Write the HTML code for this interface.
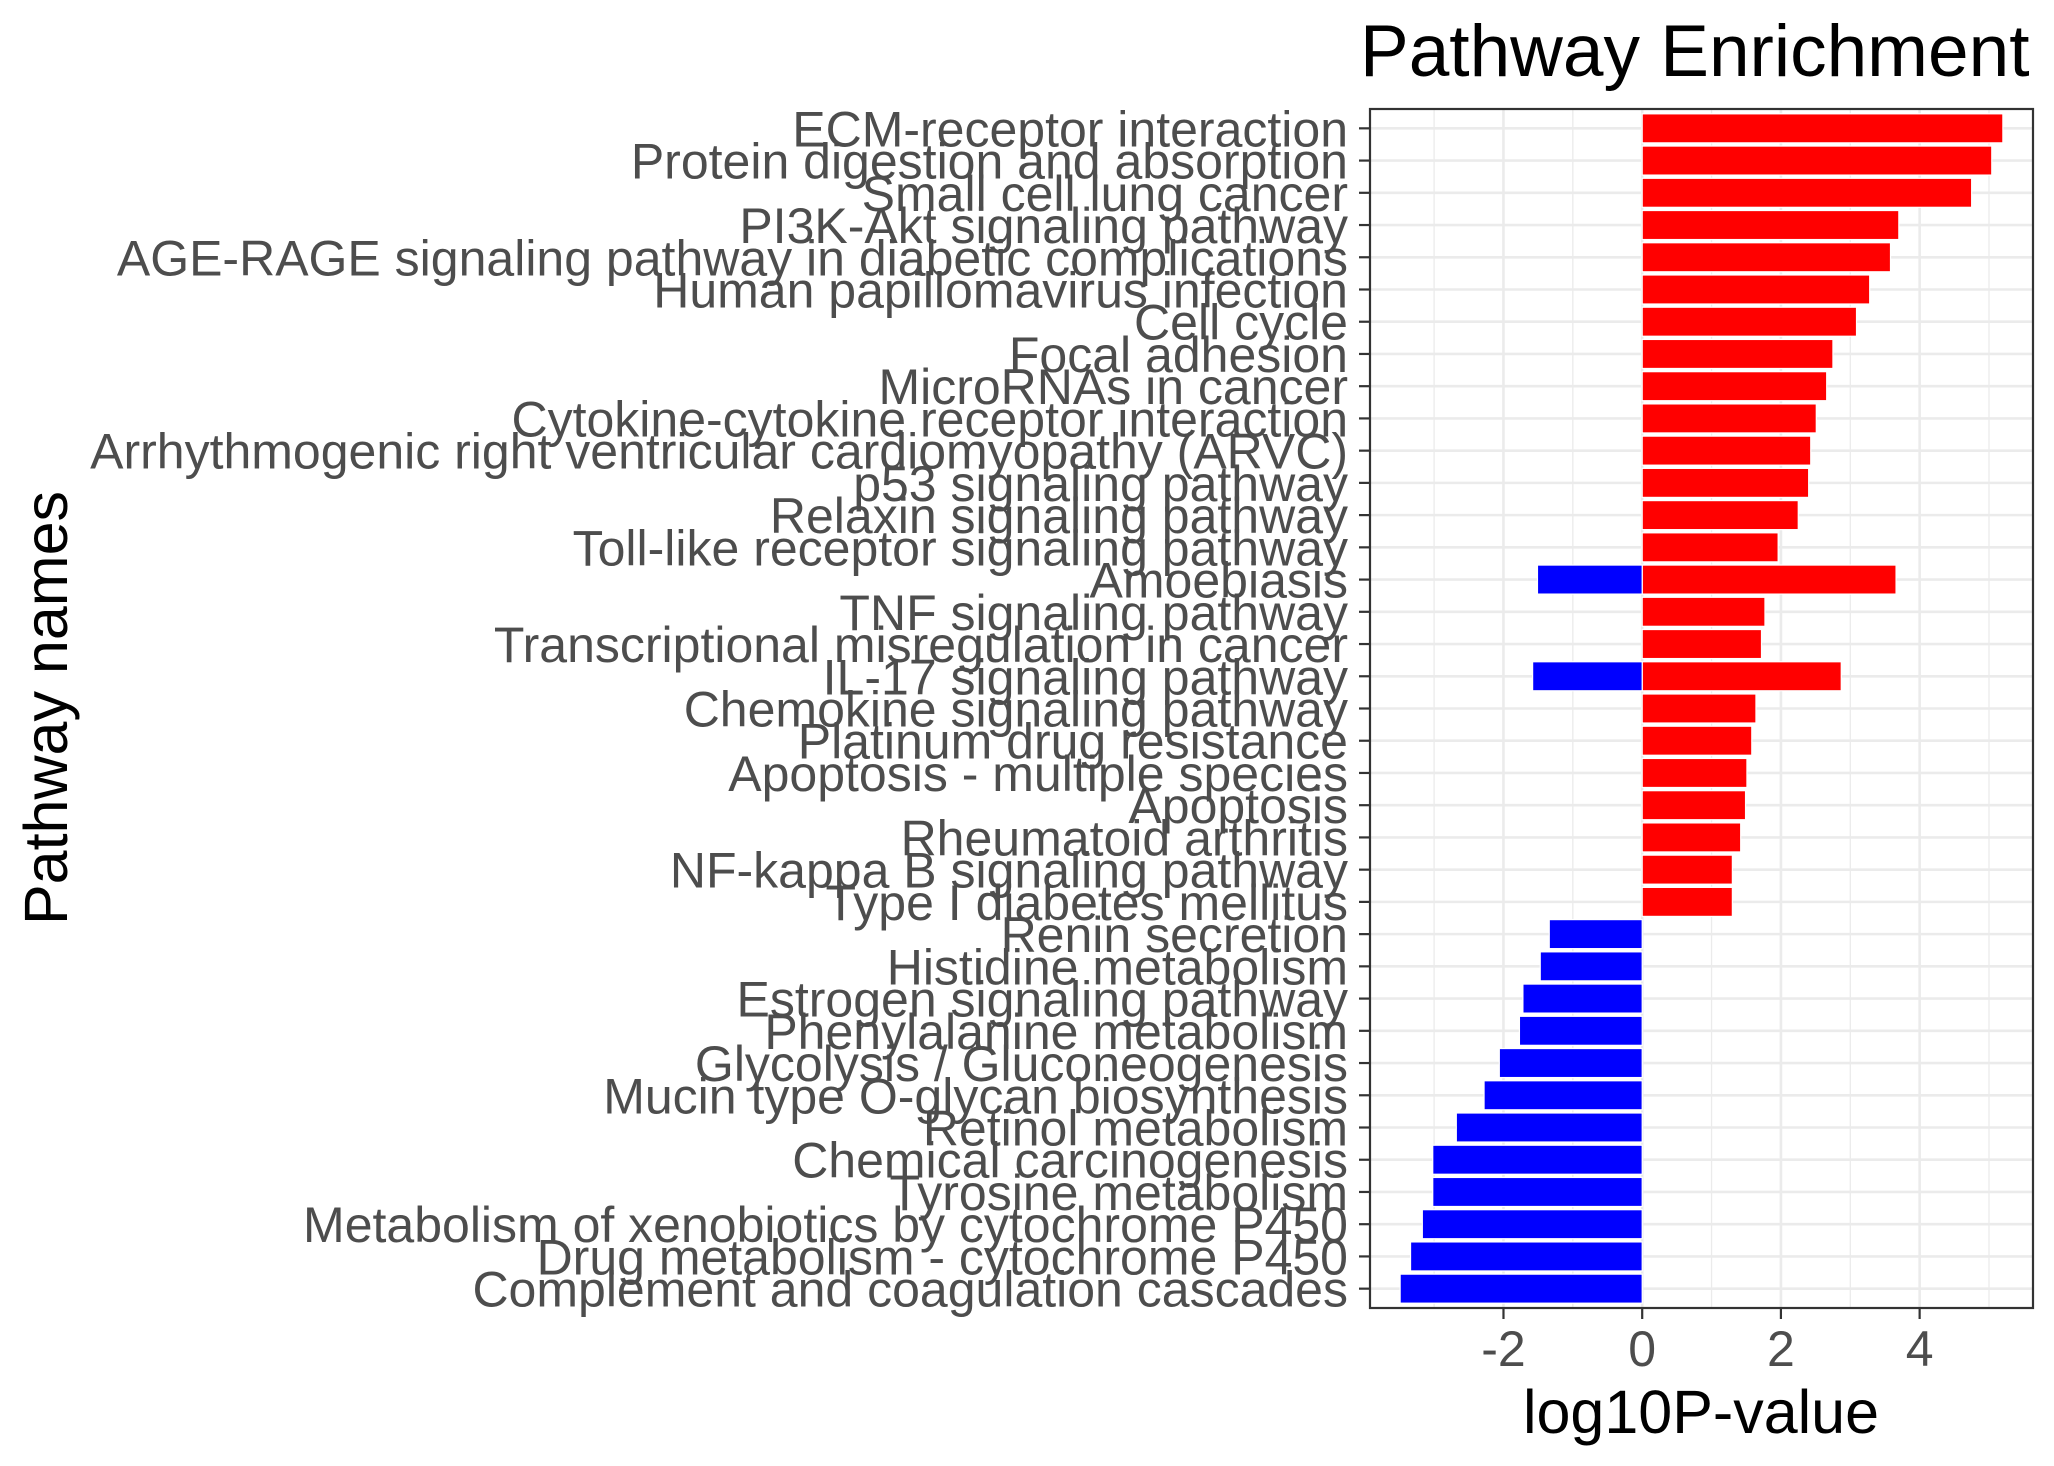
<!DOCTYPE html>
<html><head><meta charset="utf-8"><style>
html,body{margin:0;padding:0;background:#fff;}
svg{display:block;font-family:"Liberation Sans",Arial,sans-serif;}
</style></head><body>
<svg id="chart" width="2054" height="1466" viewBox="0 0 2054 1466">
<rect width="2054" height="1466" fill="#fff"/>
<text x="1360" y="76" font-size="73" fill="#000">Pathway Enrichment</text>
<g id="grid"></g>
<g id="bars"></g>
<rect x="1370" y="109" width="663" height="1199" fill="none" stroke="#333" stroke-width="2.2"/>
<g id="yaxis"></g>
<g id="xaxis"></g>
<text x="1701" y="1433" font-size="61" text-anchor="middle" fill="#000">log10P-value</text>
<text transform="translate(67,708) rotate(-90)" font-size="61" text-anchor="middle" fill="#000">Pathway names</text>
</svg>
<script>
const categories = ["ECM-receptor interaction","Protein digestion and absorption","Small cell lung cancer","PI3K-Akt signaling pathway","AGE-RAGE signaling pathway in diabetic complications","Human papillomavirus infection","Cell cycle","Focal adhesion","MicroRNAs in cancer","Cytokine-cytokine receptor interaction","Arrhythmogenic right ventricular cardiomyopathy (ARVC)","p53 signaling pathway","Relaxin signaling pathway","Toll-like receptor signaling pathway","Amoebiasis","TNF signaling pathway","Transcriptional misregulation in cancer","IL-17 signaling pathway","Chemokine signaling pathway","Platinum drug resistance","Apoptosis - multiple species","Apoptosis","Rheumatoid arthritis","NF-kappa B signaling pathway","Type I diabetes mellitus","Renin secretion","Histidine metabolism","Estrogen signaling pathway","Phenylalanine metabolism","Glycolysis / Gluconeogenesis","Mucin type O-glycan biosynthesis","Retinol metabolism","Chemical carcinogenesis","Tyrosine metabolism","Metabolism of xenobiotics by cytochrome P450","Drug metabolism - cytochrome P450","Complement and coagulation cascades"];
const upValues = [5.2,5.04,4.75,3.7,3.58,3.28,3.09,2.75,2.66,2.51,2.43,2.4,2.25,1.96,3.66,1.77,1.72,2.87,1.64,1.58,1.51,1.49,1.42,1.3,1.3,0,0,0,0,0,0,0,0,0,0,0,0];
const downValues = [0,0,0,0,0,0,0,0,0,0,0,0,0,0,-1.51,0,0,-1.58,0,0,0,0,0,0,0,-1.34,-1.47,-1.72,-1.77,-2.06,-2.28,-2.68,-3.02,-3.02,-3.17,-3.34,-3.49];
const xTicks = [-2,0,2,4];
const xTickLabels = ["-2","0","2","4"];
const xMinor = [-3,-1,1,3,5];

const NS="http://www.w3.org/2000/svg";
const PL=1370, PR=2033, PT=109, PB=1308;
const allVals = upValues.concat(downValues);
const dmin = Math.min(...allVals), dmax = Math.max(...allVals);
const pad = (dmax-dmin)*0.05;
const xmin = dmin-pad, xmax = dmax+pad;
const xs = v => PL + (v-xmin)/(xmax-xmin)*(PR-PL);
const n = categories.length;
const band = (PB-PT)/(n-1+1.2);
const ys = i => PT + (0.6+i)*band;
function mk(tag, attrs, parent){const e=document.createElementNS(NS,tag);for(const k in attrs)e.setAttribute(k,attrs[k]);parent.appendChild(e);return e;}
const grid=document.getElementById('grid'), bars=document.getElementById('bars'), yaxis=document.getElementById('yaxis'), xaxis=document.getElementById('xaxis');
xMinor.forEach(v=>{const l=mk('line',{x1:xs(v),x2:xs(v),y1:PT,y2:PB,stroke:'#ebebeb','stroke-width':1.3},grid);

});
xTicks.forEach(v=>{const l=mk('line',{x1:xs(v),x2:xs(v),y1:PT,y2:PB,stroke:'#ebebeb','stroke-width':2.6},grid);

});
categories.forEach((c,i)=>{const l=mk('line',{x1:PL,x2:PR,y1:ys(i),y2:ys(i),stroke:'#ebebeb','stroke-width':2.6},grid);

});
const bh = band*0.9;
function bar(v,i,col,name){ if(v===0) return;
 const x0=xs(0), x1=xs(v);
 const r=mk('rect',{x:Math.min(x0,x1),y:ys(i)-bh/2,width:Math.abs(x1-x0),height:bh,fill:col,stroke:'#fff','stroke-width':1.2},bars);
 
 }
upValues.forEach((v,i)=>bar(v,i,'#ff0000','bar-up'));
downValues.forEach((v,i)=>bar(v,i,'#0000ff','bar-down'));
categories.forEach((c,i)=>{
 const t=mk('line',{x1:PL-11,x2:PL,y1:ys(i),y2:ys(i),stroke:'#333','stroke-width':2.2},yaxis);
 
 
 const tx=mk('text',{x:PL-22,y:ys(i)+18,'font-size':50,'text-anchor':'end',fill:'#4d4d4d'},yaxis);
 tx.textContent=c;
 
 
});
xTicks.forEach((v,i)=>{
 const t=mk('line',{x1:xs(v),x2:xs(v),y1:PB,y2:PB+11,stroke:'#333','stroke-width':2.2},xaxis);
 
 
 const tx=mk('text',{x:xs(v),y:1366,'font-size':50,'text-anchor':'middle',fill:'#4d4d4d'},xaxis);
 tx.textContent=xTickLabels[i];
 
 
});
</script>
</body></html>
